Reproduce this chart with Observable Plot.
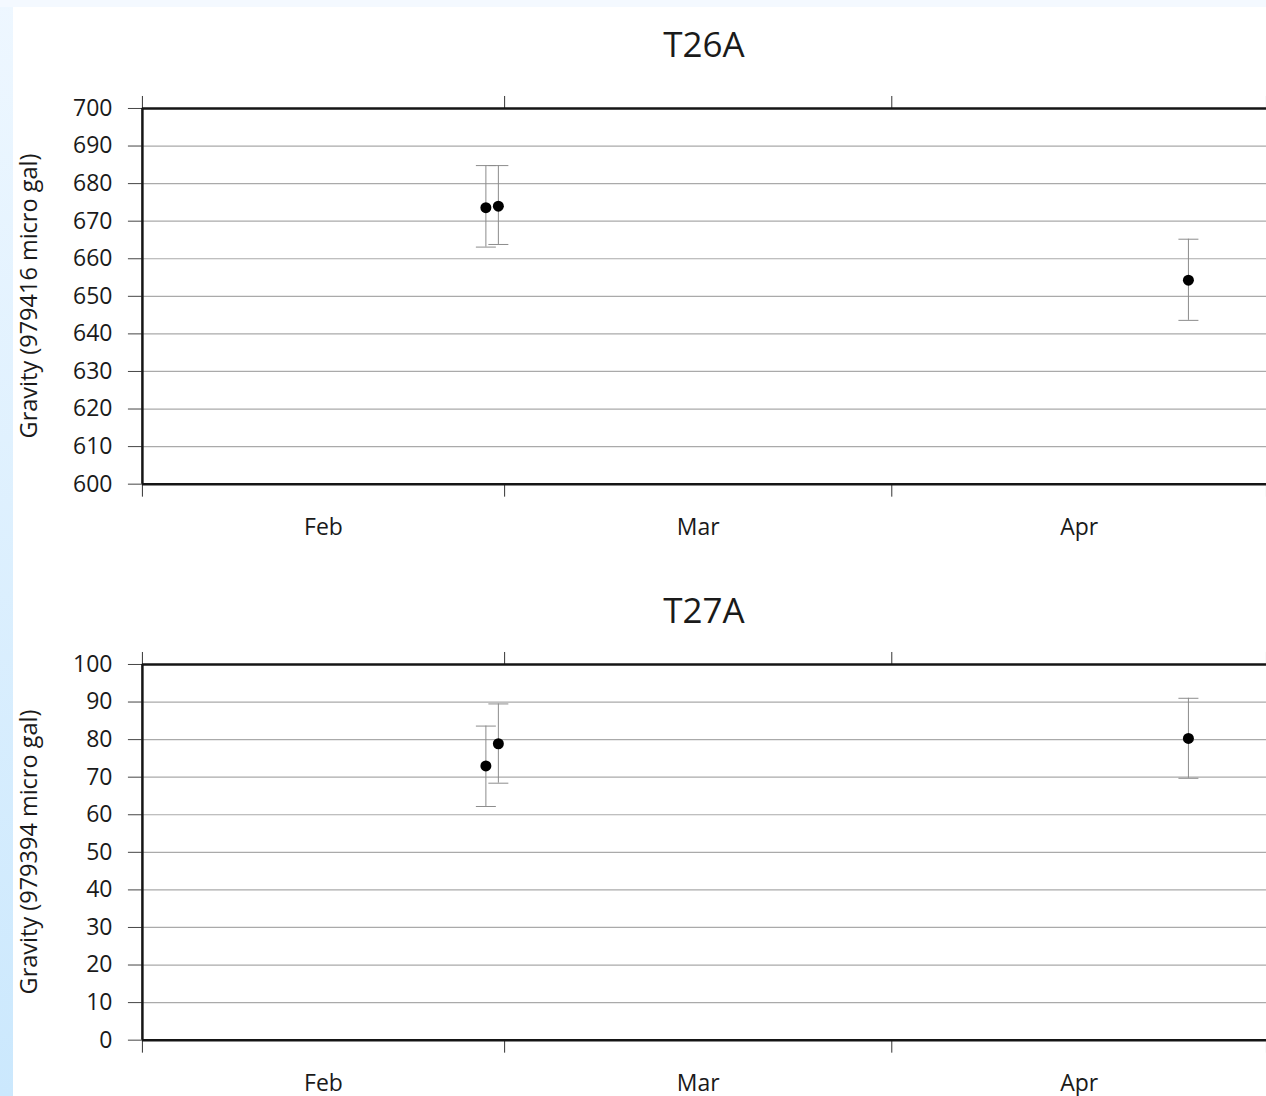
<!DOCTYPE html>
<html><head><meta charset="utf-8">
<script src="https://cdn.jsdelivr.net/npm/d3@7"></script>
<script src="https://cdn.jsdelivr.net/npm/@observablehq/plot@0.6"></script>
<style>
html,body{margin:0;padding:0;overflow:hidden;width:1266px;height:1096px;background:#fff;}
#page{position:relative;width:1266px;height:1096px;font-family:"Open Sans",sans-serif;color:#1a1a1a;}
#leftstrip{position:absolute;left:0;top:0;width:13px;height:1096px;background:linear-gradient(#eef7ff,#cbe8fd);}
#topstrip{position:absolute;left:0;top:0;width:1266px;height:7px;background:#f4f9ff;}
.panel{position:absolute;left:13px;}
.title{position:absolute;left:142px;width:1124px;text-align:center;font-size:35px;line-height:48px;}
.ylabel{position:absolute;width:400px;height:28px;line-height:28px;text-align:center;font-size:23.5px;transform:rotate(-90deg);}
</style></head><body><div id="page">
<div id="leftstrip"></div><div id="topstrip"></div>
<div class="title" style="top:20px">T26A</div>
<div class="title" style="top:586px">T27A</div>
<div class="ylabel" style="left:-172px;top:282px">Gravity (979416 micro gal)</div>
<div class="ylabel" style="left:-172px;top:838px">Gravity (979394 micro gal)</div>
<div class="panel" id="p1" style="top:80px"></div>
<div class="panel" id="p2" style="top:636px"></div>
</div>
<script>
// Month boundaries (x ticks) and observation dates
const xTicks = ["2008-02-01T00:00Z","2008-03-01T00:00Z","2008-04-01T00:00Z","2008-05-01T00:00Z"];
const dates = ["2008-02-28T12:00Z","2008-02-29T12:00Z","2008-04-24T18:00Z"];

// T26A
const t26Value = [673.6, 674.0, 654.3];
const t26High  = [684.8, 684.8, 665.2];
const t26Low   = [663.1, 663.8, 643.6];
const t26Ticks = [600, 610, 620, 630, 640, 650, 660, 670, 680, 690, 700];

// T27A
const t27Value = [73.0, 78.9, 80.3];
const t27High  = [83.6, 89.5, 91.0];
const t27Low   = [62.2, 68.4, 69.7];
const t27Ticks = [0, 10, 20, 30, 40, 50, 60, 70, 80, 90, 100];

const monthStarts = xTicks.map(d => new Date(d));
const monthMids = d3.pairs(monthStarts).map(([a, b]) => new Date((+a + +b) / 2));

const cap = {draw(ctx, size) { const r = Math.sqrt(size / Math.PI); ctx.moveTo(-r, 0); ctx.lineTo(r, 0); }};

function panel(values, highs, lows, yTicks) {
  const rows = dates.map((d, i) => ({date: new Date(d), v: values[i], hi: highs[i], lo: lows[i]}));
  const yDomain = [yTicks[0], yTicks[yTicks.length - 1]];
  return Plot.plot({
    width: 1254, height: 474,
    marginLeft: 129, marginRight: 0, marginTop: 28, marginBottom: 70,
    style: {fontFamily: "'Open Sans', sans-serif", fontSize: "23px", color: "#1a1a1a", background: "transparent", overflow: "visible"},
    x: {type: "utc", domain: [monthStarts[0], monthStarts[monthStarts.length - 1]]},
    y: {domain: yDomain},
    marks: [
      Plot.gridY(yTicks, {stroke: "#aaaaaa", strokeOpacity: 1, strokeWidth: 1.2}),
      Plot.axisY(yTicks, {anchor: "left", tickSize: 14, tickPadding: 16, stroke: "#444", label: null, fontSize: 23}),
      Plot.axisX(monthStarts, {anchor: "bottom", tickSize: 13, stroke: "#333", fill: "none", label: null}),
      Plot.axisX(monthStarts, {anchor: "top", tickSize: 13, stroke: "#333", fill: "none", label: null}),
      Plot.axisX(monthMids, {anchor: "bottom", tickSize: 0, tickPadding: 35, tickFormat: "%b", label: null, fontSize: 23}),
      Plot.ruleY(yDomain, {stroke: "#151515", strokeWidth: 2.5}),
      Plot.ruleX([monthStarts[0]], {stroke: "#151515", strokeWidth: 2.5}),
      Plot.ruleX(rows, {x: "date", y1: "lo", y2: "hi", stroke: "#8c8c8c", strokeWidth: 1}),
      Plot.dot(rows, {x: "date", y: "hi", r: 10, symbol: cap, fill: "none", stroke: "#8c8c8c", strokeWidth: 1}),
      Plot.dot(rows, {x: "date", y: "lo", r: 10, symbol: cap, fill: "none", stroke: "#8c8c8c", strokeWidth: 1}),
      Plot.dot(rows, {x: "date", y: "v", r: 5.5, fill: "black", stroke: "none"})
    ]
  });
}

document.getElementById("p1").appendChild(panel(t26Value, t26High, t26Low, t26Ticks));
document.getElementById("p2").appendChild(panel(t27Value, t27High, t27Low, t27Ticks));
</script>
</body></html>
